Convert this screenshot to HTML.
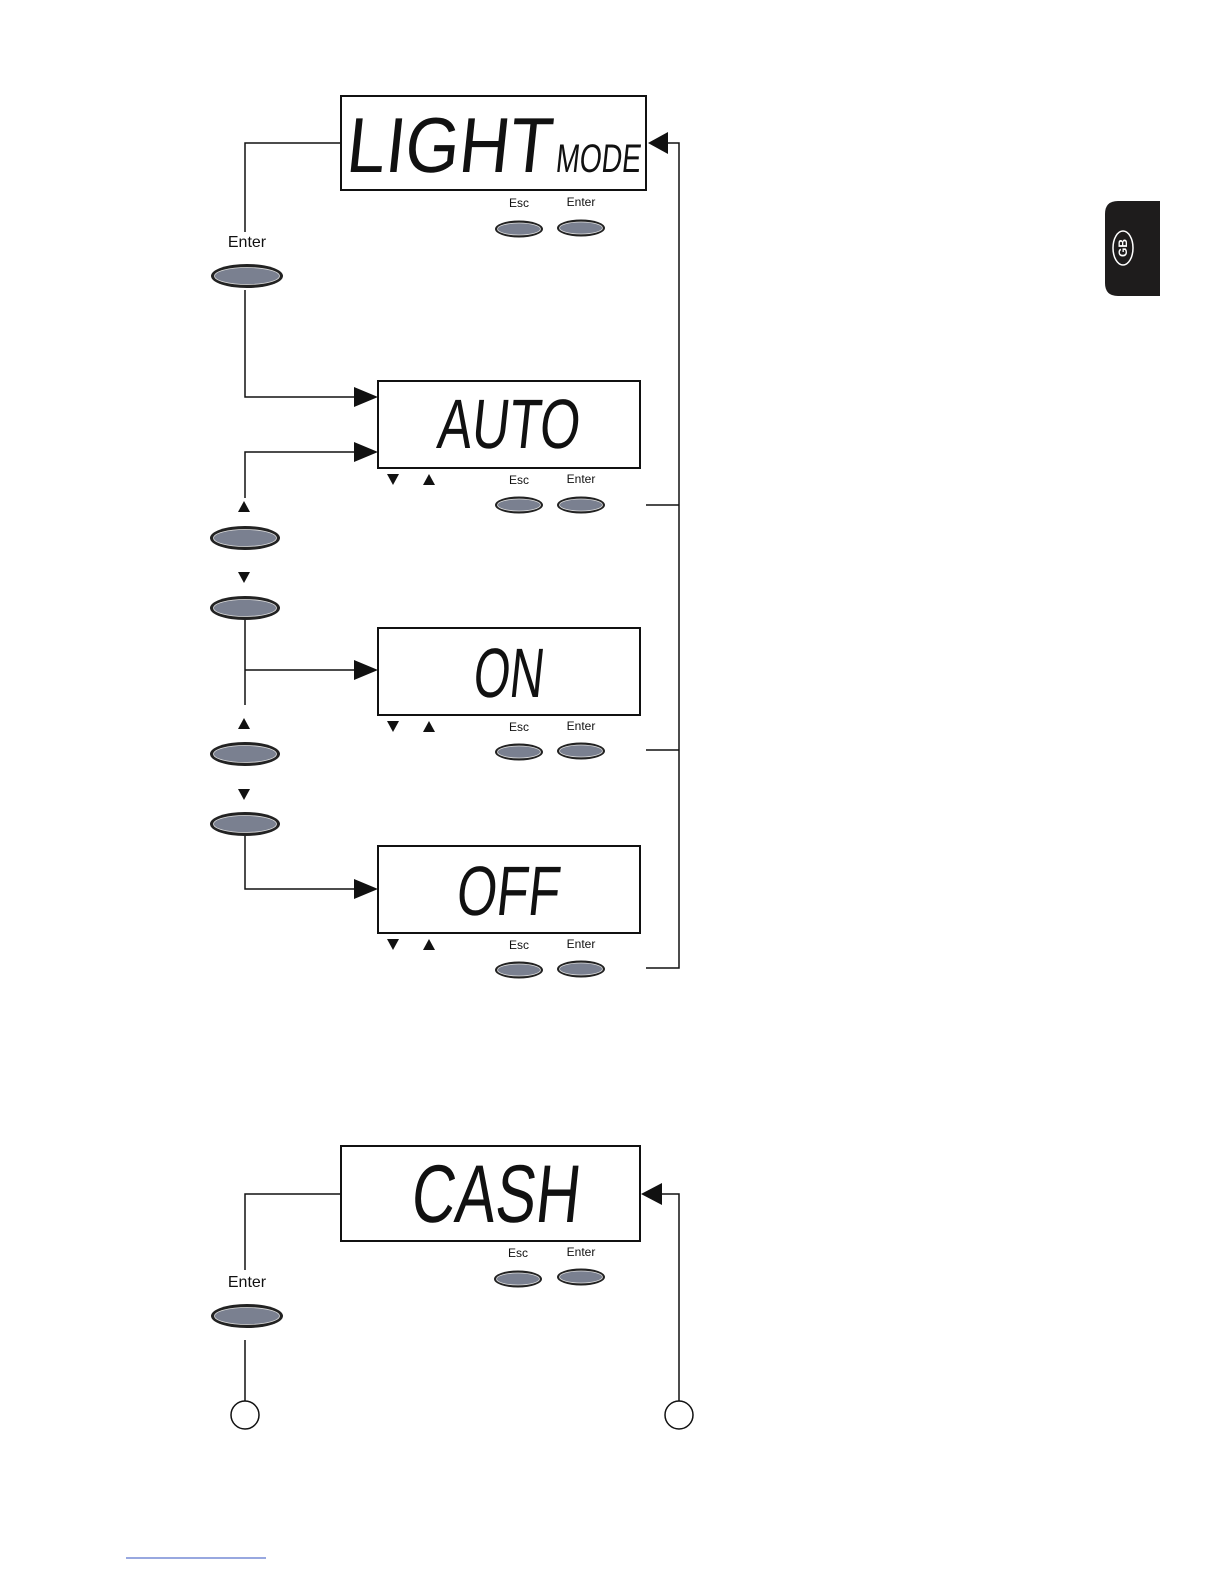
<!DOCTYPE html>
<html><head><meta charset="utf-8"><style>html,body{margin:0;padding:0;background:#fff}svg{display:block}</style></head>
<body>
<svg width="1224" height="1584" viewBox="0 0 1224 1584" xmlns="http://www.w3.org/2000/svg" font-family="Liberation Sans, sans-serif">
<defs>
<g id="btn"><ellipse cx="0" cy="0" rx="24" ry="8.5" fill="#222"/><ellipse cx="0" cy="0" rx="21.5" ry="6" fill="#7a8090" stroke="#ddd" stroke-width="0.8"/></g>
<g id="bbtn"><ellipse cx="0" cy="0" rx="36" ry="12" fill="#222"/><ellipse cx="0" cy="0" rx="32.5" ry="8.5" fill="#7a8090" stroke="#ddd" stroke-width="0.8"/></g>
<g id="lbtn"><ellipse cx="0" cy="0" rx="35" ry="12" fill="#222"/><ellipse cx="0" cy="0" rx="31.5" ry="8.5" fill="#7a8090" stroke="#ddd" stroke-width="0.8"/></g>
</defs>
<g fill="none" stroke="#111" stroke-width="2">
<rect x="341" y="96" width="305" height="94"/>
<rect x="378" y="381" width="262" height="87"/>
<rect x="378" y="628" width="262" height="87"/>
<rect x="378" y="846" width="262" height="87"/>
<rect x="341" y="1146" width="299" height="95"/>
</g>
<g fill="none" stroke="#111" stroke-width="1.5">
<polyline points="341,143 245,143 245,232"/>
<polyline points="245,290 245,397 358,397"/>
<polyline points="245,498 245,452 358,452"/>
<polyline points="245,620 245,705"/>
<line x1="245" y1="670" x2="358" y2="670"/>
<polyline points="245,836 245,889 358,889"/>
<polyline points="666,143 679,143 679,968 646,968"/>
<line x1="646" y1="505" x2="679" y2="505"/>
<line x1="646" y1="750" x2="679" y2="750"/>
<polyline points="341,1194 245,1194 245,1270"/>
<line x1="245" y1="1340" x2="245" y2="1401"/>
<polyline points="679,1401 679,1194 660,1194"/>
<circle cx="245" cy="1415" r="14"/>
<circle cx="679" cy="1415" r="14"/>
</g>
<g fill="#111">
<polygon points="378,397 354,387 354,407"/>
<polygon points="378,452 354,442 354,462"/>
<polygon points="378,670 354,660 354,680"/>
<polygon points="378,889 354,879 354,899"/>
<polygon points="648,143 668,132 668,154"/>
<polygon points="641,1194 662,1183 662,1205"/>
<polygon points="238,512 250,512 244,501"/>
<polygon points="238,572 250,572 244,583"/>
<polygon points="238,729 250,729 244,718"/>
<polygon points="238,789 250,789 244,800"/>
<g id="ud"><polygon points="387,474 399,474 393,485"/><polygon points="423,485 435,485 429,474"/></g>
<use href="#ud" y="247"/><use href="#ud" y="465"/>
</g>
<g fill="#111" font-size="12" text-anchor="middle">
<text x="519" y="207">Esc</text><text x="581" y="206">Enter</text>
<text x="519" y="484">Esc</text><text x="581" y="483">Enter</text>
<text x="519" y="731">Esc</text><text x="581" y="730">Enter</text>
<text x="519" y="949">Esc</text><text x="581" y="948">Enter</text>
<text x="518" y="1257">Esc</text><text x="581" y="1256">Enter</text>
</g>
<g fill="#111" font-size="16" text-anchor="middle">
<text x="247" y="247">Enter</text>
<text x="247" y="1287">Enter</text>
</g>
<use href="#btn" x="519" y="229"/><use href="#btn" x="581" y="228"/>
<use href="#btn" x="519" y="505"/><use href="#btn" x="581" y="505"/>
<use href="#btn" x="519" y="752"/><use href="#btn" x="581" y="751"/>
<use href="#btn" x="519" y="970"/><use href="#btn" x="581" y="969"/>
<use href="#btn" x="518" y="1279"/><use href="#btn" x="581" y="1277"/>
<use href="#bbtn" x="247" y="276"/><use href="#bbtn" x="247" y="1316"/>
<use href="#lbtn" x="245" y="538"/><use href="#lbtn" x="245" y="608"/>
<use href="#lbtn" x="245" y="754"/><use href="#lbtn" x="245" y="824"/>
<g fill="#111" font-family="Liberation Sans Narrow, Liberation Sans, sans-serif">
<text x="345" y="172" font-size="78" textLength="205" lengthAdjust="spacingAndGlyphs" transform="skewX(-6) translate(18,0)">LIGHT</text>
<text x="555" y="172" font-size="40" textLength="85" lengthAdjust="spacingAndGlyphs" transform="skewX(-6) translate(18,0)">MODE</text>
<text x="436" y="448" font-size="70" textLength="142" lengthAdjust="spacingAndGlyphs" transform="skewX(-6) translate(47,0)">AUTO</text>
<text x="472" y="697" font-size="70" textLength="70" lengthAdjust="spacingAndGlyphs" transform="skewX(-6) translate(73,0)">ON</text>
<text x="455" y="915" font-size="70" textLength="103" lengthAdjust="spacingAndGlyphs" transform="skewX(-6) translate(96,0)">OFF</text>
<text x="410" y="1222" font-size="82" textLength="168" lengthAdjust="spacingAndGlyphs" transform="skewX(-6) translate(128,0)">CASH</text>
</g>
<path d="M1118,201 H1160 V296 H1118 Q1105,296 1105,283 V214 Q1105,201 1118,201 Z" fill="#1e1c1c"/>
<ellipse cx="1123" cy="248" rx="10" ry="17" fill="none" stroke="#fff" stroke-width="1.5"/>
<text x="0" y="0" fill="#fff" font-size="12" font-weight="bold" text-anchor="middle" transform="translate(1127,248) rotate(-90)">GB</text>
<line x1="126" y1="1558" x2="266" y2="1558" stroke="#3050c0" stroke-width="1"/>
</svg>
</body></html>
